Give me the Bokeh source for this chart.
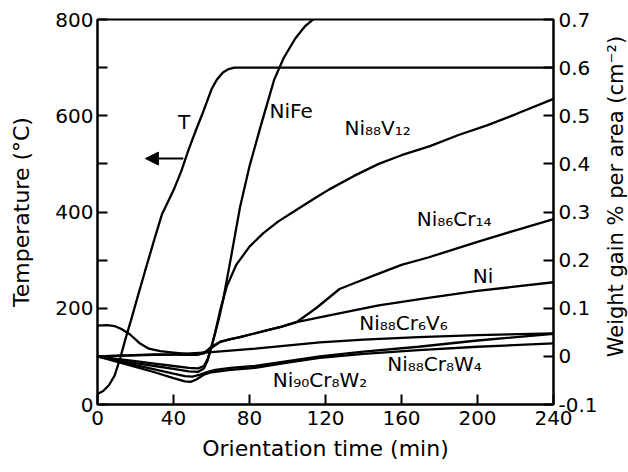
import math
from bokeh.plotting import figure
from bokeh.layouts import row
from bokeh.models import Range1d, LinearAxis, FixedTicker, Arrow, NormalHead, Label
from bokeh.core.properties import value
from bokeh.embed import file_html
from bokeh.resources import INLINE

FONT = "DejaVu Sans"

# Temperature curve (left axis, degC)
t_T = [0, 3, 6, 9, 12, 15, 18, 21, 25, 30, 34, 40, 44, 48, 52, 56, 60, 63, 66, 69, 72, 76, 240]
temp = [22, 28, 40, 60, 97, 140, 180, 222, 277, 344, 396, 445, 484, 530, 572, 612, 655, 676, 690, 697, 700, 700, 700]

# Weight gain curves (right axis)
t_nife = [0, 10, 20, 30, 40, 48, 53, 56, 58, 60, 62, 64, 66, 70, 75, 80, 86, 93, 98, 104, 109, 114]
w_nife = [0, -0.005, -0.01, -0.015, -0.02, -0.024, -0.025, -0.02, -0.005, 0.02, 0.05, 0.08, 0.115, 0.2, 0.31, 0.395, 0.48, 0.575, 0.62, 0.66, 0.685, 0.702]

t_v12 = [0, 10, 20, 30, 40, 48, 53, 56, 58, 60, 62, 64.5, 68, 73, 80, 87, 95, 105, 115, 122, 135, 148, 160, 175, 190, 205, 220, 240]
w_v12 = [0, -0.007, -0.014, -0.02, -0.026, -0.031, -0.032, -0.025, -0.008, 0.02, 0.05, 0.095, 0.145, 0.19, 0.228, 0.255, 0.28, 0.305, 0.33, 0.347, 0.375, 0.4, 0.418, 0.437, 0.46, 0.48, 0.503, 0.535]

t_cr14 = [0, 5, 9, 13, 17, 22, 27, 33, 40, 47, 53, 57, 60, 64.5, 70, 75, 82, 89, 97, 104.7, 115, 127.4, 135, 148, 160, 174.5, 200, 220, 240]
w_cr14 = [0.064, 0.065, 0.063, 0.056, 0.046, 0.028, 0.016, 0.011, 0.008, 0.005, 0.004, 0.01, 0.02, 0.03, 0.036, 0.04, 0.047, 0.054, 0.062, 0.071, 0.1, 0.14, 0.152, 0.172, 0.19, 0.206, 0.238, 0.262, 0.285]

t_ni = [0, 15, 30, 45, 52, 56, 60, 64.5, 70, 75, 82, 89, 97, 104.7, 122, 148, 175, 200, 240]
w_ni = [0, 0.002, 0.004, 0.003, 0.003, 0.006, 0.018, 0.03, 0.036, 0.04, 0.047, 0.054, 0.062, 0.071, 0.085, 0.106, 0.122, 0.136, 0.154]

t_cr6v6 = [0, 20, 40, 60, 83, 117, 140, 169, 200, 240]
w_cr6v6 = [0, 0.002, 0.004, 0.009, 0.016, 0.029, 0.035, 0.04, 0.044, 0.048]

t_w4 = [0, 10, 20, 30, 40, 46, 50, 54, 58, 62, 70, 83, 100, 117, 140, 169, 200, 240]
w_w4 = [0, -0.009, -0.018, -0.027, -0.036, -0.041, -0.042, -0.038, -0.032, -0.028, -0.024, -0.02, -0.01, 0.0, 0.01, 0.02, 0.033, 0.047]

t_w2 = [0, 10, 20, 30, 40, 46, 49, 52, 56, 60, 70, 83, 100, 117, 140, 169, 200, 240]
w_w2 = [0, -0.011, -0.022, -0.033, -0.045, -0.052, -0.053, -0.048, -0.038, -0.033, -0.028, -0.024, -0.013, -0.003, 0.005, 0.013, 0.02, 0.027]

x_ticks = [0, 40, 80, 120, 160, 200, 240]
y_ticks = [0, 200, 400, 600, 800]
y_minor = [100, 300, 500, 700]
w_ticks = [-0.1, 0.0, 0.1, 0.2, 0.3, 0.4, 0.5, 0.6, 0.7]
w_tick_labels = ["-0.1", "0", "0.1", "0.2", "0.3", "0.4", "0.5", "0.6", "0.7"]

# curve labels (x in min, y in degC of left axis)
lab_x = [90.5, 130, 168, 197.5, 137.8, 152.5, 92.2]
lab_y = [609, 574, 385, 268, 170, 85, 50]
lab_text = ["NiFe", "Ni\u2088\u2088V\u2081\u2082", "Ni\u2088\u2086Cr\u2081\u2084", "Ni",
            "Ni\u2088\u2088Cr\u2086V\u2086", "Ni\u2088\u2088Cr\u2088W\u2084", "Ni\u2089\u2080Cr\u2088W\u2082"]

p = figure(width=600, height=472, x_range=Range1d(0, 240), y_range=Range1d(0, 800),
           output_backend="svg", toolbar_location=None,
           min_border_left=97, min_border_right=45, min_border_top=19, min_border_bottom=68)
p.extra_y_ranges = {"w": Range1d(-0.1, 0.7)}
p.grid.visible = False
p.outline_line_color = "black"
p.outline_line_width = 2
p.outline_line_alpha = 1.0

LW = 2.3
p.line(t_T, temp, line_color="black", line_width=LW)
for tt, ww in [(t_nife, w_nife), (t_v12, w_v12), (t_cr14, w_cr14), (t_ni, w_ni),
               (t_cr6v6, w_cr6v6), (t_w4, w_w4), (t_w2, w_w2)]:
    p.line(tt, ww, line_color="black", line_width=LW, y_range_name="w")

p.text(x=lab_x, y=lab_y, text=lab_text, text_font=value(FONT), text_font_size="20px",
       text_align="left", text_baseline="middle", text_color="black")
p.text(x=[45.6], y=[588], text=["T"], text_font=value(FONT), text_font_size="20px",
       text_align="center", text_baseline="middle", text_color="black")
p.add_layout(Arrow(end=NormalHead(size=13, fill_color="black", line_color="black"),
                   x_start=45.2, y_start=511, x_end=25.2, y_end=511,
                   line_width=2, line_color="black"))

def style(ax):
    ax.axis_line_width = 2
    ax.major_tick_in = 10
    ax.major_tick_out = 0
    ax.minor_tick_in = 10
    ax.minor_tick_out = 0
    ax.major_tick_line_width = 2
    ax.minor_tick_line_width = 2
    ax.major_label_text_font = FONT
    ax.major_label_text_font_size = "20px"
    ax.major_label_text_color = "black"
    ax.axis_label_text_font = FONT
    ax.axis_label_text_font_size = "22px"
    ax.axis_label_text_font_style = "normal"
    ax.axis_label_text_color = "black"

xa = p.xaxis[0]
style(xa)
xa.ticker = FixedTicker(ticks=x_ticks)
xa.axis_label = "Orientation time (min)"
xa.major_label_standoff = 6
xa.axis_label_standoff = 8

ya = p.yaxis[0]
style(ya)
ya.ticker = FixedTicker(ticks=y_ticks, minor_ticks=y_minor)
ya.axis_label = "Temperature (\u00b0C)"
ya.major_label_standoff = 4
ya.axis_label_standoff = 18

ra = LinearAxis(y_range_name="w")
style(ra)
ra.ticker = FixedTicker(ticks=w_ticks)
ra.major_label_overrides = {k: v for k, v in zip(w_ticks, w_tick_labels)}
ra.major_label_standoff = 5
p.add_layout(ra, "right")

# narrow companion figure (same borders, so frames stay aligned) that carries the
# right-hand axis title, reading bottom to top
q = figure(width=28, height=472, x_range=Range1d(0, 1), y_range=Range1d(0, 1),
           output_backend="svg", toolbar_location=None,
           min_border_left=0, min_border_right=0, min_border_top=19, min_border_bottom=68)
q.grid.visible = False
q.outline_line_color = None
q.xaxis.visible = False
q.yaxis.visible = False
q.add_layout(Label(x=0.55, y=0.54, text="Weight gain % per area (cm\u207b\u00b2)",
                   angle=math.pi / 2, text_align="center", text_baseline="middle",
                   text_font=FONT, text_font_size="21px", text_color="black"))

layout = row(p, q, spacing=0)
open("out.html", "w").write(file_html(layout, INLINE))
